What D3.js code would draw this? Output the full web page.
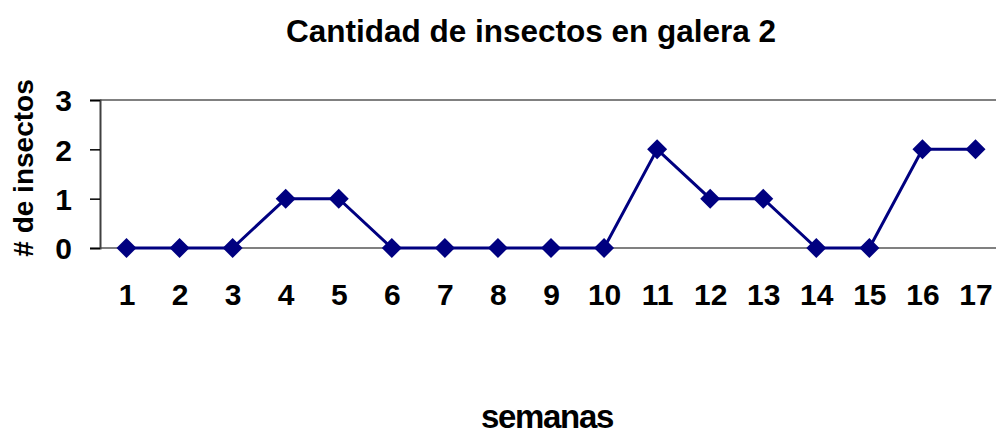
<!DOCTYPE html>
<html>
<head>
<meta charset="utf-8">
<script src="https://cdn.jsdelivr.net/npm/d3@7"></script>
<style>
  body { margin: 0; background: #fff; }
  svg { display: block; }
  text { font-family: "Liberation Sans", Arial, sans-serif; font-weight: bold; fill: #000; }
</style>
</head>
<body>
<div id="chart"></div>
<script>
var semanas = ["1", "2", "3", "4", "5", "6", "7", "8", "9", "10", "11", "12", "13", "14", "15", "16", "17"];
var insectos = [0, 0, 0, 1, 1, 0, 0, 0, 0, 0, 2, 1, 1, 0, 0, 2, 2];
var yTicks = [0, 1, 2, 3];

var width = 996;
var height = 439;
var plotLeft = 100, plotTop = 100, plotBottom = 248;
var step = 53.06;

var svg = d3.select("#chart")
	.append("svg")
		.attr("width", width)
		.attr("height", height);

var xScale = d3.scalePoint()
	.domain(semanas)
	.range([plotLeft + step / 2, plotLeft + step * (semanas.length - 0.5)]);

var yScale = d3.scaleLinear()
	.domain([0, 3])
	.range([plotBottom, plotTop]);

// gridline at top and baseline
svg.append("line")
	.attr("x1", plotLeft).attr("x2", width)
	.attr("y1", yScale(3)).attr("y2", yScale(3))
	.attr("stroke", "#808080").attr("stroke-width", 2);
svg.append("line")
	.attr("x1", plotLeft).attr("x2", width)
	.attr("y1", yScale(0)).attr("y2", yScale(0))
	.attr("stroke", "#808080").attr("stroke-width", 2);

// y axis
var yAxis = d3.axisLeft(yScale)
	.tickValues(yTicks)
	.tickFormat(d3.format("d"))
	.tickSize(10)
	.tickPadding(18);

var gy = svg.append("g")
	.attr("class", "y-axis")
	.attr("transform", "translate(" + plotLeft + ",0)")
	.call(yAxis);
gy.select(".domain").attr("stroke", "#404040").attr("stroke-width", 2);
gy.selectAll(".tick line").attr("stroke", "#000").attr("stroke-width", 1.5);
gy.selectAll(".tick text")
	.attr("font-size", "30px")
	.attr("font-family", "Liberation Sans, Arial, sans-serif")
	.attr("font-weight", "bold")
	.attr("dy", "0.36em");

// x labels
var xAxis = d3.axisBottom(xScale).tickSize(0).tickPadding(0);
var gx = svg.append("g")
	.attr("class", "x-axis")
	.attr("transform", "translate(0," + plotBottom + ")")
	.call(xAxis);
gx.select(".domain").remove();
gx.selectAll(".tick text")
	.attr("font-size", "30px")
	.attr("font-family", "Liberation Sans, Arial, sans-serif")
	.attr("font-weight", "bold")
	.attr("y", 57)
	.attr("dy", null);

// line
var line = d3.line()
	.x(function(d, i) { return xScale(semanas[i]); })
	.y(function(d) { return yScale(d); });

svg.append("path")
	.datum(insectos)
	.attr("fill", "none")
	.attr("stroke", "#000080")
	.attr("stroke-width", 3)
	.attr("d", line);

var diamond = d3.symbol().type(d3.symbolSquare).size(200);
svg.selectAll(".marker")
	.data(insectos)
	.enter()
		.append("path")
		.attr("class", "marker")
		.attr("d", diamond)
		.attr("fill", "#000080")
		.attr("transform", function(d, i) {
			return "translate(" + xScale(semanas[i]) + "," + yScale(d) + ") rotate(45)";
		});

// titles
svg.append("text")
	.attr("x", 531)
	.attr("y", 42)
	.attr("text-anchor", "middle")
	.attr("font-size", "31.5px")
	.text("Cantidad de insectos en galera 2");

svg.append("text")
	.attr("transform", "translate(33,168) rotate(-90)")
	.attr("text-anchor", "middle")
	.attr("font-size", "28px")
	.text("# de insectos");

svg.append("text")
	.attr("x", 547)
	.attr("y", 428)
	.attr("text-anchor", "middle")
	.attr("font-size", "33px")
	.attr("letter-spacing", "-1.3px")
	.text("semanas");
</script>
</body>
</html>
